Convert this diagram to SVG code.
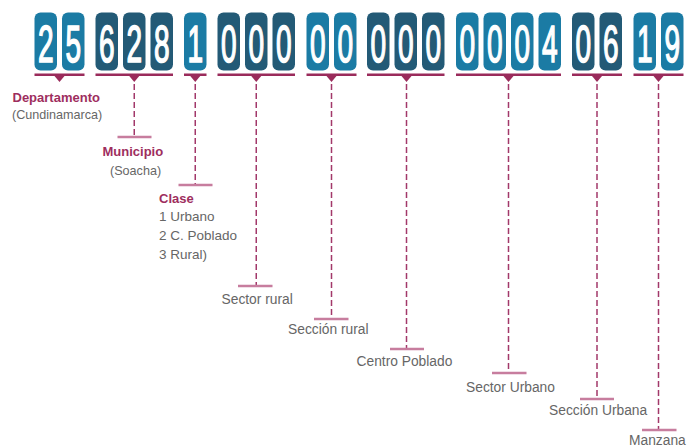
<svg xmlns="http://www.w3.org/2000/svg" width="687" height="447" viewBox="0 0 687 447">
<style>
.tl{fill:#1b7ba4}
.td{fill:#235a76}
.dg{fill:#fff;stroke:#fff;stroke-width:1.6;font-family:"Liberation Sans",Arial,sans-serif;font-size:51px;text-anchor:middle}
.bar{fill:#9a2b5b}
.con{stroke:#a2386a;stroke-width:1.5;stroke-dasharray:6 3;fill:none}
.tee{stroke:#c77d9e;stroke-width:2.5}
.h{fill:#9e2e5e;font-family:"Liberation Sans",Arial,sans-serif;font-weight:bold;font-size:13px}
.g{fill:#666;font-family:"Liberation Sans",Arial,sans-serif;font-size:13.8px}
.p{fill:#666;font-family:"Liberation Sans",Arial,sans-serif;font-size:12.6px}
.c{fill:#666;font-family:"Liberation Sans",Arial,sans-serif;font-size:13.5px}
</style>
<defs>
<rect id="t" width="22.5" height="58" rx="6"/>
</defs>
<g id="seg-departamento">
<use href="#t" x="34.5" y="12.5" class="tl"/><use href="#t" x="62" y="12.5" class="tl"/>
<text class="dg" transform="translate(45.75,62) scale(0.55,1)">2</text>
<text class="dg" transform="translate(73.25,62) scale(0.55,1)">5</text>
<rect class="bar" x="34.5" y="73.5" width="50" height="2.5"/>
<polygon class="bar" points="54.5,76 64.5,76 59.5,82"/>
</g>
<g id="seg-municipio">
<use href="#t" x="95.5" y="12.5" class="td"/><use href="#t" x="123" y="12.5" class="td"/><use href="#t" x="150.5" y="12.5" class="td"/>
<text class="dg" transform="translate(106.75,62) scale(0.55,1)">6</text>
<text class="dg" transform="translate(134.25,62) scale(0.55,1)">2</text>
<text class="dg" transform="translate(161.75,62) scale(0.55,1)">8</text>
<rect class="bar" x="95.5" y="73.5" width="77.5" height="2.5"/>
<polygon class="bar" points="129.25,76 139.25,76 134.25,82"/>
</g>
<g id="seg-clase">
<use href="#t" x="184" y="12.5" class="tl"/>
<text class="dg" transform="translate(195.25,62) scale(0.55,1)">1</text>
<rect class="bar" x="184" y="73.5" width="22.5" height="2.5"/>
<polygon class="bar" points="190.25,76 200.25,76 195.25,82"/>
</g>
<g id="seg-sector-rural">
<use href="#t" x="217.5" y="12.5" class="td"/><use href="#t" x="245" y="12.5" class="td"/><use href="#t" x="272.5" y="12.5" class="td"/>
<text class="dg" transform="translate(228.75,62) scale(0.55,1)">0</text>
<text class="dg" transform="translate(256.25,62) scale(0.55,1)">0</text>
<text class="dg" transform="translate(283.75,62) scale(0.55,1)">0</text>
<rect class="bar" x="217.5" y="73.5" width="77.5" height="2.5"/>
<polygon class="bar" points="251.25,76 261.25,76 256.25,82"/>
</g>
<g id="seg-seccion-rural">
<use href="#t" x="306.5" y="12.5" class="tl"/><use href="#t" x="334" y="12.5" class="tl"/>
<text class="dg" transform="translate(317.75,62) scale(0.55,1)">0</text>
<text class="dg" transform="translate(345.25,62) scale(0.55,1)">0</text>
<rect class="bar" x="306.5" y="73.5" width="50" height="2.5"/>
<polygon class="bar" points="326.5,76 336.5,76 331.5,82"/>
</g>
<g id="seg-centro-poblado">
<use href="#t" x="367" y="12.5" class="td"/><use href="#t" x="394.5" y="12.5" class="td"/><use href="#t" x="422" y="12.5" class="td"/>
<text class="dg" transform="translate(378.25,62) scale(0.55,1)">0</text>
<text class="dg" transform="translate(405.75,62) scale(0.55,1)">0</text>
<text class="dg" transform="translate(433.25,62) scale(0.55,1)">0</text>
<rect class="bar" x="367" y="73.5" width="77.5" height="2.5"/>
<polygon class="bar" points="401.5,76 411.5,76 406.5,82"/>
</g>
<g id="seg-sector-urbano">
<use href="#t" x="456" y="12.5" class="tl"/><use href="#t" x="483.5" y="12.5" class="tl"/><use href="#t" x="511" y="12.5" class="tl"/><use href="#t" x="538.5" y="12.5" class="tl"/>
<text class="dg" transform="translate(467.25,62) scale(0.55,1)">0</text>
<text class="dg" transform="translate(494.75,62) scale(0.55,1)">0</text>
<text class="dg" transform="translate(522.25,62) scale(0.55,1)">0</text>
<text class="dg" transform="translate(549.75,62) scale(0.55,1)">4</text>
<rect class="bar" x="456" y="73.5" width="105" height="2.5"/>
<polygon class="bar" points="503.5,76 513.5,76 508.5,82"/>
</g>
<g id="seg-seccion-urbana">
<use href="#t" x="572" y="12.5" class="td"/><use href="#t" x="599.5" y="12.5" class="td"/>
<text class="dg" transform="translate(583.25,62) scale(0.55,1)">0</text>
<text class="dg" transform="translate(610.75,62) scale(0.55,1)">6</text>
<rect class="bar" x="572" y="73.5" width="50" height="2.5"/>
<polygon class="bar" points="592,76 602,76 597,82"/>
</g>
<g id="seg-manzana">
<use href="#t" x="633.5" y="12.5" class="tl"/><use href="#t" x="661" y="12.5" class="tl"/>
<text class="dg" transform="translate(644.75,62) scale(0.55,1)">1</text>
<text class="dg" transform="translate(672.25,62) scale(0.55,1)">9</text>
<rect class="bar" x="633.5" y="73.5" width="50" height="2.5"/>
<polygon class="bar" points="653.5,76 663.5,76 658.5,82"/>
</g>
<g id="connectors">
<line class="con" x1="134.25" y1="84" x2="134.25" y2="137"/><line class="tee" x1="117.5" y1="137" x2="151.5" y2="137"/>
<line class="con" x1="195.25" y1="84" x2="195.25" y2="185"/><line class="tee" x1="178.5" y1="185" x2="212.5" y2="185"/>
<line class="con" x1="256.25" y1="84" x2="256.25" y2="286"/><line class="tee" x1="238" y1="286" x2="272.5" y2="286"/>
<line class="con" x1="331.5" y1="84" x2="331.5" y2="319"/><line class="tee" x1="314" y1="319" x2="348.5" y2="319"/>
<line class="con" x1="406.5" y1="84" x2="406.5" y2="349"/><line class="tee" x1="390" y1="349" x2="424" y2="349"/>
<line class="con" x1="508.5" y1="84" x2="508.5" y2="373"/><line class="tee" x1="492" y1="373" x2="526.5" y2="373"/>
<line class="con" x1="597" y1="84" x2="597" y2="399"/><line class="tee" x1="580" y1="399" x2="614" y2="399"/>
<line class="con" x1="658.5" y1="84" x2="658.5" y2="430"/><line class="tee" x1="642" y1="430" x2="676.5" y2="430"/>
</g>
<g id="label-departamento">
<text class="h" x="12.5" y="101.5">Departamento</text>
<text class="p" x="12" y="119">(Cundinamarca)</text>
</g>
<g id="label-municipio">
<text class="h" x="102.5" y="156">Municipio</text>
<text class="p" x="110" y="175">(Soacha)</text>
</g>
<g id="label-clase">
<text class="h" x="159" y="202.5">Clase</text>
<text class="c" x="159" y="220.5">1 Urbano</text>
<text class="c" x="159" y="240">2 C. Poblado</text>
<text class="c" x="159" y="259">3 Rural)</text>
</g>
<g id="label-sector-rural"><text class="g" x="221.5" y="304">Sector rural</text></g>
<g id="label-seccion-rural"><text class="g" x="288" y="334">Sección rural</text></g>
<g id="label-centro-poblado"><text class="g" x="356.5" y="366">Centro Poblado</text></g>
<g id="label-sector-urbano"><text class="g" x="466" y="391.5">Sector Urbano</text></g>
<g id="label-seccion-urbana"><text class="g" x="549" y="415">Sección Urbana</text></g>
<g id="label-manzana"><text class="g" x="629" y="445">Manzana</text></g>
</svg>
